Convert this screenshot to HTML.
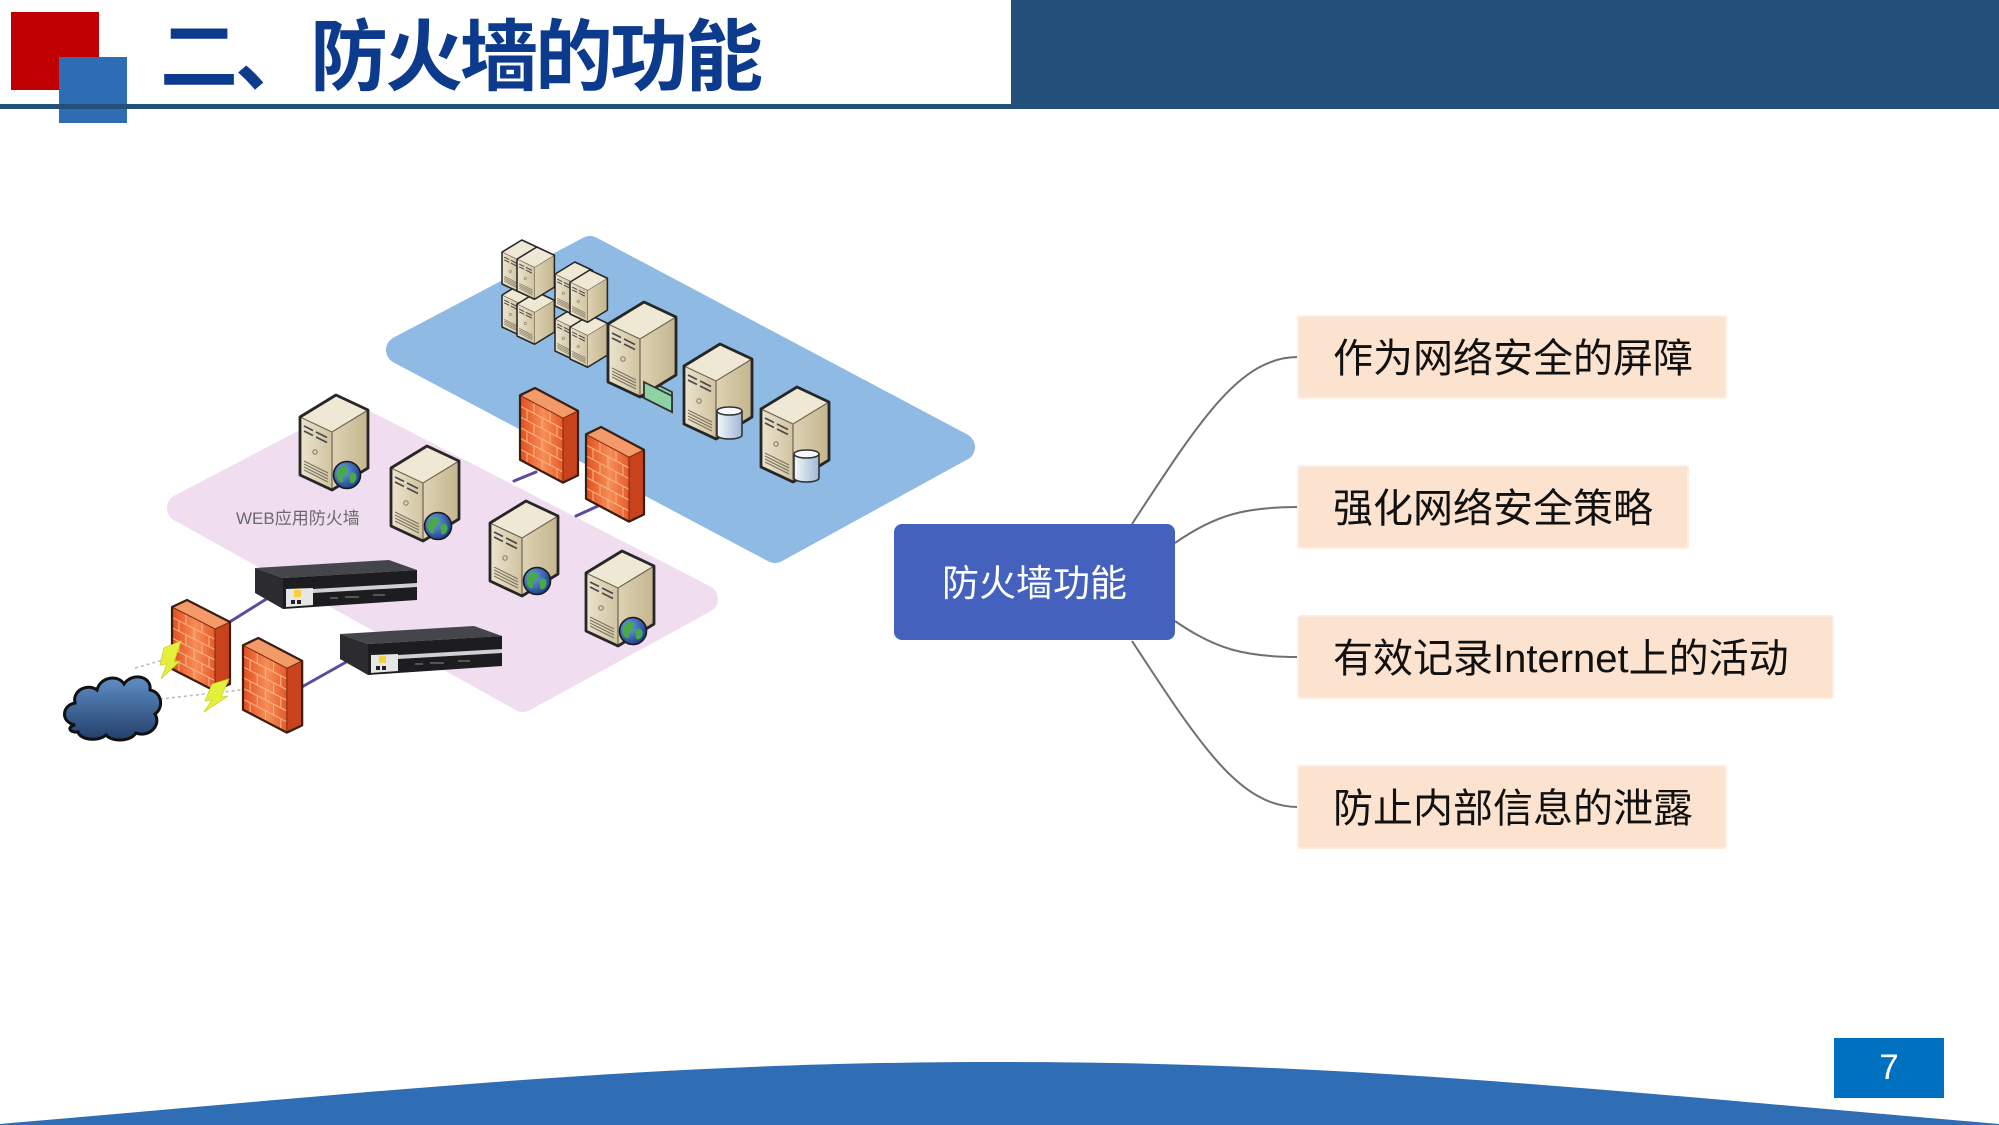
<!DOCTYPE html>
<html><head><meta charset="utf-8">
<style>
html,body{margin:0;padding:0;}
body{width:1999px;height:1125px;position:relative;overflow:hidden;background:#fff;font-family:"Liberation Sans","Noto Sans CJK SC",sans-serif;}
.abs{position:absolute;}
.box{position:absolute;background:#FBE3CF;border:2px solid #FDEDE2;box-sizing:border-box;border-radius:3px;display:flex;align-items:center;padding-left:34px;padding-top:4px;font-size:40px;color:#111;line-height:1;white-space:nowrap;font-family:"Liberation Sans","Noto Sans CJK SC",sans-serif;}
</style></head><body>

<svg class="abs" style="left:0;top:0" width="1999" height="1125" viewBox="0 0 1999 1125">
<defs>
  <linearGradient id="gFront" x1="0" y1="0" x2="1" y2="0">
    <stop offset="0" stop-color="#ECE4CE"/><stop offset="1" stop-color="#D0C3A0"/>
  </linearGradient>
  <linearGradient id="gRight" x1="0" y1="0" x2="1" y2="0">
    <stop offset="0" stop-color="#DDD2B4"/><stop offset="1" stop-color="#C4B58E"/>
  </linearGradient>
  <linearGradient id="gFw" x1="0" y1="0" x2="1" y2="0">
    <stop offset="0" stop-color="#E24E1E"/><stop offset="0.55" stop-color="#F68E58"/><stop offset="1" stop-color="#E65A28"/>
  </linearGradient>
  <radialGradient id="gGlobe" cx="0.35" cy="0.35" r="0.7">
    <stop offset="0" stop-color="#6FA3E8"/><stop offset="1" stop-color="#1B3C8A"/>
  </radialGradient>
  <linearGradient id="gDb" x1="0" y1="0" x2="1" y2="0">
    <stop offset="0" stop-color="#F4F8FC"/><stop offset="1" stop-color="#9FB8D4"/>
  </linearGradient>
  <linearGradient id="gCloud" x1="0" y1="0" x2="0" y2="1">
    <stop offset="0" stop-color="#5F8FC6"/><stop offset="1" stop-color="#233F6B"/>
  </linearGradient>

  <g id="srv">
    <polygon points="0,22 36,0 68,15 32,37" fill="#EFE8D4"/>
    <polygon points="0,22 32,37 32,95 0,80" fill="url(#gFront)"/>
    <polygon points="32,37 68,15 68,73 32,95" fill="url(#gRight)"/>
    <path d="M0,22 L32,37 L68,15 M32,37 L32,95" fill="none" stroke="#6f6550" stroke-width="1.2"/>
    <path d="M4,31 L13,35.5 M16,37 L27,42.5 M4,36 L13,40.5 M16,42 L27,47.5" stroke="#4a4a4a" stroke-width="1.8"/>
    <circle cx="15" cy="57" r="2.2" fill="none" stroke="#7d7562" stroke-width="1"/>
    <path d="M4,66 L28,78 M4,69 L28,81 M4,72 L28,84 M4,75 L28,87" stroke="#7d7562" stroke-width="1.2"/>
    <polygon points="0,22 36,0 68,15 68,73 32,95 0,80" fill="none" stroke="#262626" stroke-width="2.8" stroke-linejoin="round"/>
  </g>
  <g id="globe">
    <circle cx="0" cy="0" r="13.5" fill="url(#gGlobe)" stroke="#1a1a1a" stroke-width="1.6"/>
    <path d="M-8,-7 C-4,-11 2,-9 1,-4 C0,0 -5,1 -4,5 C-3,9 -8,8 -10,3 C-11,-1 -10,-4 -8,-7 Z" fill="#49A84A"/>
    <path d="M4,-2 C8,-4 11,0 9,5 C7,9 3,10 3,6 C3,3 1,0 4,-2 Z" fill="#49A84A"/>
  </g>
  <g id="websrv">
    <use href="#srv"/>
    <use href="#globe" x="47" y="80"/>
  </g>
  <g id="db">
    <path d="M0,4 L0,28 A12.5,4 0 0 0 25,28 L25,4" fill="url(#gDb)" stroke="#333" stroke-width="1.6"/>
    <ellipse cx="12.5" cy="4" rx="12.5" ry="4" fill="#F5F8FC" stroke="#333" stroke-width="1.6"/>
  </g>
  <g id="dbsrv">
    <use href="#srv"/>
    <use href="#db" x="33" y="63"/>
  </g>
  <g id="fw">
    <polygon points="0,7 15,0 58,22 43,29" fill="#F39A68"/>
    <polygon points="0,7 43,29 43,91 0,69" fill="url(#gFw)"/>
    <polygon points="43,29 58,22 58,84 43,91" fill="#C8431B"/>
    <path d="M0,17.3L43,39.3 M0,27.7L43,49.7 M0,38L43,60 M0,48.3L43,70.3 M0,58.7L43,80.7
      M14,14.2V24.5 M30,22.3V32.6 M7,20.9V31.2 M22,28.6V38.9 M37,36.2V46.6
      M14,34.9V45.2 M30,43V53.3 M7,41.6V51.9 M22,49.3V59.6 M37,56.9V67.2
      M14,55.5V65.9 M30,63.6V74 M7,62.3V72.6 M22,70V80.3 M37,77.6V87.9" stroke="#F8B585" stroke-width="1" fill="none"/>
    <path d="M0,7 L43,29 L58,22 M43,29 L43,91" fill="none" stroke="#7a2a10" stroke-width="1"/>
    <polygon points="0,7 15,0 58,22 58,84 43,91 0,69" fill="none" stroke="#3b1d12" stroke-width="2.2" stroke-linejoin="round"/>
  </g>
  <g id="app">
    <polygon points="0,8 134,0 162,10 28,18" fill="#44464b"/>
    <polygon points="28,18 162,10 162,40 28,49" fill="#1d1d1f"/>
    <polygon points="0,8 28,18 28,49 0,33" fill="#2c2c2f"/>
    <polygon points="58,29 162,23 162,27 58,33" fill="#cfd0d2"/>
    <polygon points="31,29 58,28 58,45 31,47" fill="#e6e6e6"/>
    <rect x="39" y="30" width="7" height="7" fill="#F2D23A"/>
    <rect x="36" y="40" width="4" height="4" fill="#222"/><rect x="42" y="40" width="4" height="4" fill="#222"/>
    <path d="M75,38 h8 M90,37 h14 M118,35 h12" stroke="#555" stroke-width="2"/>
  </g>
</defs>

<!-- planes -->
<polygon points="590,250 961,447 775,549 400,350" fill="#8EBAE4" stroke="#8EBAE4" stroke-width="28" stroke-linejoin="round"/>
<polygon points="353,418 704,599 523,698 181,508" fill="#F0DEF0" stroke="#F0DEF0" stroke-width="28" stroke-linejoin="round"/>

<!-- purple links -->
<g stroke="#5C4A9E" stroke-width="3" stroke-linecap="round">
  <line x1="514" y1="481" x2="536" y2="472"/>
  <line x1="576" y1="516" x2="598" y2="506"/>
  <line x1="228" y1="623" x2="268" y2="598"/>
  <line x1="300" y1="688" x2="348" y2="661"/>
</g>

<!-- blue plane servers -->
<use href="#srv" transform="translate(502,283) scale(0.55)"/>
<use href="#srv" transform="translate(502,240) scale(0.55)"/>
<use href="#srv" transform="translate(517,292) scale(0.55)"/>
<use href="#srv" transform="translate(517,247) scale(0.55)"/>
<use href="#srv" transform="translate(555,307) scale(0.55)"/>
<use href="#srv" transform="translate(555,262) scale(0.55)"/>
<use href="#srv" transform="translate(570,315) scale(0.55)"/>
<use href="#srv" transform="translate(570,270) scale(0.55)"/>
<polygon points="640,376 672,392 672,412 640,396" fill="#8ED3A5" stroke="#333" stroke-width="1.8"/>
<use href="#srv" transform="translate(608,302)"/>
<polygon points="644,382 672,396 672,412 644,398" fill="#8ED3A5" stroke="#333" stroke-width="1.8"/>
<use href="#dbsrv" transform="translate(684,344)"/>
<use href="#dbsrv" transform="translate(761,387)"/>

<!-- pink plane servers -->
<use href="#websrv" transform="translate(300,395)"/>
<use href="#websrv" transform="translate(391,446)"/>
<use href="#websrv" transform="translate(490,501)"/>
<use href="#websrv" transform="translate(586,551)"/>

<!-- firewalls between planes -->
<use href="#fw" transform="translate(520,388) scale(1,1.04)"/>
<use href="#fw" transform="translate(586,427) scale(1,1.04)"/>

<!-- appliances -->
<use href="#app" transform="translate(255,560)"/>
<use href="#app" transform="translate(340,626)"/>

<!-- dashed links from cloud -->
<g stroke="#b8b8b8" stroke-width="1.5" stroke-dasharray="3,3" fill="none">
  <line x1="135" y1="668" x2="205" y2="648"/>
  <line x1="160" y1="699" x2="268" y2="687"/>
</g>

<!-- edge firewalls -->
<use href="#fw" transform="translate(172,600)"/>
<use href="#fw" transform="translate(243,638) scale(1.02,1.04)"/>

<!-- cloud -->
<path d="M75,725 C60,722 62,705 75,703 C72,690 88,683 97,690 C100,677 118,674 124,684 C132,672 152,676 150,690 C162,692 164,708 155,714 C162,726 148,738 136,733 C130,742 112,742 106,735 C98,742 80,740 78,732 C70,733 66,727 75,725 Z" fill="url(#gCloud)" stroke="#111" stroke-width="3"/>

<!-- lightning -->
<polygon points="164,648 181,641 174,662 180,661 161,679 167,664 160,665" fill="#E4F03A" stroke="#c9d42a" stroke-width="0.8"/>
<polygon points="212,684 229,679 221,697 228,696 204,712 212,700 205,701" fill="#E4F03A" stroke="#c9d42a" stroke-width="0.8"/>

<text x="236" y="524" font-family="Liberation Sans, Noto Sans CJK SC, sans-serif" font-size="17" fill="#6a6a6a">WEB应用防火墙</text>

<!-- connectors -->
<g fill="none" stroke="#707070" stroke-width="2">
  <path d="M1132,524 C1200,420 1240,357 1298,357"/>
  <path d="M1175,543 C1215,515 1245,507 1298,507"/>
  <path d="M1175,621 C1215,649 1245,657 1298,657"/>
  <path d="M1132,641 C1200,745 1240,807 1298,807"/>
</g>

<!-- bottom arch -->
<path d="M0,1125 L0,1124 C400,1090 650,1062 999,1062 C1348,1062 1599,1090 1999,1124 L1999,1125 Z" fill="#2F6DB5"/>
</svg>

<!-- header -->
<div class="abs" style="left:1011px;top:0;width:988px;height:109px;background:#22507B;"></div>
<div class="abs" style="left:11px;top:12px;width:88px;height:78px;background:#C00000;"></div>
<div class="abs" style="left:59px;top:57px;width:68px;height:66px;background:#2E6DB4;"></div>
<div class="abs" style="left:0;top:104px;width:1011px;height:5px;background:#22507B;"></div>
<div class="abs" style="left:160px;top:18px;font-size:78px;line-height:1;font-weight:bold;color:#0C3A8D;letter-spacing:-3px;white-space:nowrap;font-family:'Liberation Sans','Noto Sans CJK SC',sans-serif;">二、防火墙的功能</div>

<!-- center node -->
<div class="abs" style="left:894px;top:524px;width:281px;height:116px;background:#4361BD;border-radius:8px;display:flex;align-items:center;justify-content:center;padding-top:3px;box-sizing:border-box;color:#fff;font-size:37px;line-height:1;white-space:nowrap;">防火墙功能</div>

<!-- branch boxes -->
<div class="box" style="left:1297px;top:315px;width:430px;height:84px;">作为网络安全的屏障</div>
<div class="box" style="left:1297px;top:465px;width:392px;height:84px;">强化网络安全策略</div>
<div class="box" style="left:1297px;top:615px;width:537px;height:84px;">有效记录Internet上的活动</div>
<div class="box" style="left:1297px;top:765px;width:430px;height:84px;">防止内部信息的泄露</div>

<!-- page number -->
<div class="abs" style="left:1834px;top:1038px;width:110px;height:60px;background:#0070C0;color:#fff;font-size:35px;line-height:60px;text-align:center;">7</div>

</body></html>
